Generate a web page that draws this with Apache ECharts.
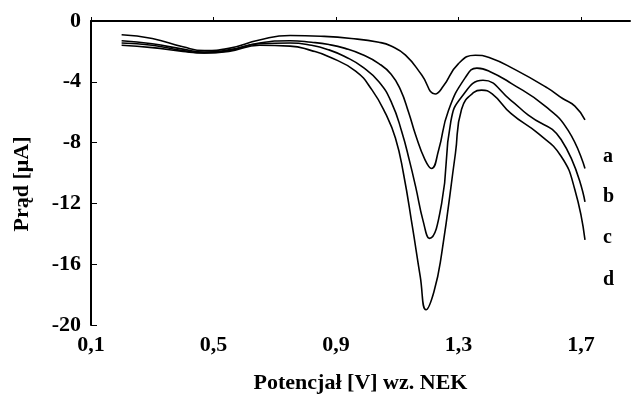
<!DOCTYPE html>
<html>
<head>
<meta charset="utf-8">
<script src="https://cdn.jsdelivr.net/npm/echarts@6/dist/echarts.min.js"></script>
<style>
  html, body { margin: 0; padding: 0; background: #fff; }
  #chart { width: 632px; height: 399px; }
</style>
</head>
<body>
<div id="chart"></div>
<script>
// krzywe woltamperometryczne a-d: [potencjał V, prąd µA]
const curveA = [
  [0.20, -0.90], [0.30, -1.15], [0.40, -1.70], [0.47, -1.95], [0.55, -1.80],
  [0.65, -1.25], [0.75, -0.95], [0.85, -1.00], [0.95, -1.15], [1.04, -1.40],
  [1.08, -1.65], [1.127, -2.25], [1.18, -3.55], [1.224, -4.80],
  [1.25, -4.30], [1.30, -2.80], [1.355, -2.25], [1.40, -2.40], [1.485, -3.20],
  [1.59, -4.40], [1.64, -5.10], [1.68, -5.60], [1.713, -6.50]
]
const curveB = [
  [0.20, -1.30], [0.30, -1.50], [0.40, -1.85], [0.47, -2.05], [0.55, -1.90],
  [0.65, -1.45], [0.75, -1.30], [0.82, -1.40], [0.877, -1.55], [0.93, -1.80],
  [0.985, -2.20], [1.04, -2.80], [1.08, -3.50], [1.11, -4.50], [1.137, -6.00],
  [1.16, -7.50], [1.19, -9.10], [1.212, -9.70], [1.235, -8.50],
  [1.267, -5.90], [1.323, -3.70], [1.36, -3.10], [1.40, -3.30], [1.472, -4.10],
  [1.583, -5.60], [1.658, -7.20], [1.713, -9.70]
]
const curveC = [
  [0.20, -1.45], [0.30, -1.60], [0.40, -1.95], [0.47, -2.10], [0.55, -1.95],
  [0.65, -1.50], [0.75, -1.45], [0.82, -1.60], [0.877, -1.90], [0.93, -2.35],
  [0.985, -3.00], [1.04, -4.00], [1.082, -5.40], [1.115, -7.30], [1.14, -9.20],
  [1.16, -10.90], [1.185, -13.20], [1.205, -14.30], [1.245, -12.00], [1.275, -6.60],
  [1.31, -5.00], [1.38, -3.90], [1.47, -5.20], [1.528, -6.20], [1.635, -7.80],
  [1.713, -11.90]
]
const curveD = [
  [0.20, -1.60], [0.30, -1.75], [0.40, -2.00], [0.47, -2.10], [0.55, -2.00],
  [0.65, -1.60], [0.75, -1.65], [0.82, -1.95], [0.877, -2.35], [0.964, -3.30],
  [1.018, -4.55], [1.062, -6.10], [1.094, -7.70], [1.12, -10.00], [1.15, -13.60],
  [1.175, -16.80], [1.194, -19.00], [1.22, -17.80], [1.245, -15.30],
  [1.29, -8.70], [1.31, -5.80], [1.35, -4.70], [1.375, -4.55], [1.41, -4.80],
  [1.472, -6.10], [1.56, -7.40], [1.635, -8.90], [1.68, -11.10], [1.713, -14.40]
]
const curveNames = ['a', 'b', 'c', 'd']
const xTicks = [0.1, 0.5, 0.9, 1.3, 1.7]
const labelOffsets = [[10, 37], [10, 28], [10, 36], [10, 40]]

const font = 'Liberation Serif'
const chart = echarts.init(document.getElementById('chart'))

const series = [curveA, curveB, curveC, curveD].map((data, i) => ({
  name: curveNames[i],
  type: 'line',
  data,
  smooth: 0.5,
  symbol: 'none',
  lineStyle: { color: '#000', width: 1.6 },
  endLabel: {
    show: true,
    formatter: curveNames[i],
    offset: labelOffsets[i],
    color: '#000',
    fontFamily: font,
    fontWeight: 'bold',
    fontSize: 20,
  },
  animation: false,
}))

chart.setOption({
  backgroundColor: '#fff',
  animation: false,
  grid: { left: 91, right: 2, top: 21, bottom: 74 },
  xAxis: {
    type: 'value',
    min: 0.1,
    max: 1.86,
    name: 'Potencjał [V] wz. NEK',
    nameLocation: 'middle',
    nameGap: 47,
    nameTextStyle: { color: '#000', fontFamily: font, fontWeight: 'bold', fontSize: 22 },
    axisLine: { lineStyle: { color: '#000', width: 2 } },
    axisTick: { inside: true, length: 4, customValues: xTicks, lineStyle: { color: '#000' } },
    axisLabel: {
      customValues: xTicks,
      formatter: v => v.toFixed(1).replace('.', ','),
      color: '#000', fontFamily: font, fontWeight: 'bold', fontSize: 22, margin: 9,
    },
    splitLine: { show: false },
  },
  yAxis: {
    type: 'value',
    min: -20,
    max: 0,
    interval: 4,
    name: 'Prąd [μA]',
    nameLocation: 'middle',
    nameGap: 58,
    nameTextStyle: {
      color: '#000', fontFamily: font, fontWeight: 'bold', fontSize: 22,
      padding: [0, 22, 0, 0],
    },
    axisLine: { lineStyle: { color: '#000', width: 2 } },
    axisTick: { inside: true, length: 6, lineStyle: { color: '#000' } },
    axisLabel: { color: '#000', fontFamily: font, fontWeight: 'bold', fontSize: 22, margin: 10 },
    splitLine: { show: false },
  },
  series,
})
</script>
</body>
</html>
